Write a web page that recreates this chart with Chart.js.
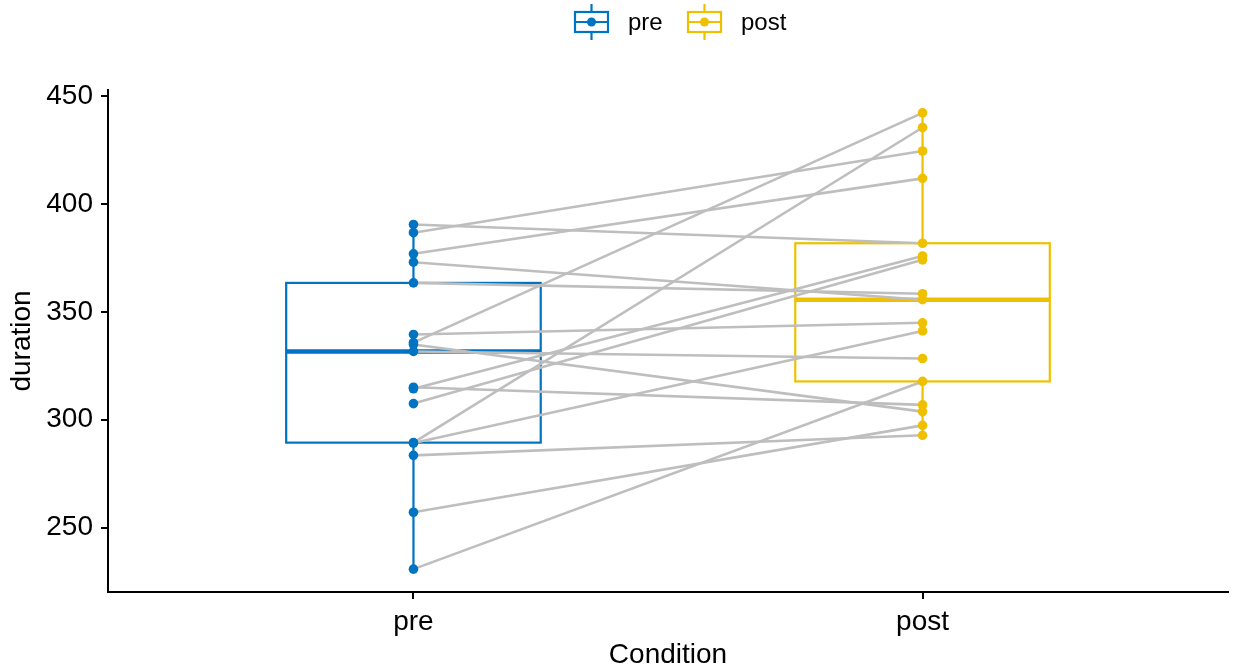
<!DOCTYPE html>
<html>
<head>
<meta charset="utf-8">
<script src="https://cdn.jsdelivr.net/npm/chart.js@4.4.1/dist/chart.umd.min.js"></script>
<style>
  html, body { margin: 0; padding: 0; background: #fff; }
  #wrap { width: 1233px; height: 669px; }
</style>
</head>
<body>
<div id="wrap"><canvas id="chart"></canvas></div>
<script>
// data (paired: preDuration[i] -> postDuration[i])
var conditions = ['pre', 'post'];
var preDuration  = [390.6, 386.8, 377.0, 373.1, 363.5, 339.6, 335.8, 334.9, 331.7, 315.1, 314.4, 307.5, 289.4, 289.2, 283.5, 257.1, 230.7];
var postDuration = [381.9, 424.7, 412.0, 355.7, 358.5, 345.0, 442.4, 303.8, 328.4, 306.9, 376.0, 374.2, 435.6, 341.2, 292.8, 297.4, 317.8];
var yTicks = [250, 300, 350, 400, 450];
var groupColors = ['#0073C2', '#EFC000'];
var pairColor = '#BEBEBE';
var FONT = 'Liberation Sans, Arial, sans-serif';

function quantile(values, p) {
    var s = values.slice().sort(function (a, b) { return a - b; });
    var h = (s.length - 1) * p;
    var lo = Math.floor(h);
    return s[lo] + (h - lo) * ((s[lo + 1] !== undefined ? s[lo + 1] : s[lo]) - s[lo]);
}

function boxStats(values) {
    var q1 = quantile(values, 0.25), q3 = quantile(values, 0.75);
    var iqr = q3 - q1;
    var inside = values.filter(function (v) { return v >= q1 - 1.5 * iqr && v <= q3 + 1.5 * iqr; });
    return {
        q1: q1, q3: q3, median: quantile(values, 0.5),
        lo: Math.min.apply(null, inside), hi: Math.max.apply(null, inside)
    };
}

// boxes + whiskers drawn under the datasets, positioned with the chart scales
var boxPlugin = {
    id: 'pairedBoxes',
    beforeDatasetsDraw: function (chart) {
        var ctx = chart.ctx, xs = chart.scales.x, ys = chart.scales.y;
        [preDuration, postDuration].forEach(function (vals, i) {
            var st = boxStats(vals);
            var xc = xs.getPixelForValue(i + 1);
            var x0 = xs.getPixelForValue(i + 1 - 0.25);
            var x1 = xs.getPixelForValue(i + 1 + 0.25);
            ctx.save();
            ctx.strokeStyle = groupColors[i];
            ctx.lineWidth = 2.2;
            ctx.beginPath();
            ctx.moveTo(xc, ys.getPixelForValue(st.q3));
            ctx.lineTo(xc, ys.getPixelForValue(st.hi));
            ctx.moveTo(xc, ys.getPixelForValue(st.q1));
            ctx.lineTo(xc, ys.getPixelForValue(st.lo));
            ctx.stroke();
            ctx.strokeRect(x0, ys.getPixelForValue(st.q3), x1 - x0, ys.getPixelForValue(st.q1) - ys.getPixelForValue(st.q3));
            ctx.lineWidth = 4.4;
            ctx.beginPath();
            ctx.moveTo(x0, ys.getPixelForValue(st.median));
            ctx.lineTo(x1, ys.getPixelForValue(st.median));
            ctx.stroke();
            ctx.restore();
        });
    }
};

// legend with small boxplot glyphs
var legendPlugin = {
    id: 'boxLegend',
    afterDraw: function (chart) {
        var ctx = chart.ctx;
        var items = [{ x: 575, label: conditions[0] }, { x: 688, label: conditions[1] }];
        var cy = 22;
        items.forEach(function (it, i) {
            var w = 33, cx = it.x + w / 2;
            ctx.save();
            ctx.strokeStyle = groupColors[i];
            ctx.fillStyle = groupColors[i];
            ctx.lineWidth = 2.2;
            ctx.strokeRect(it.x, cy - 10, w, 20);
            ctx.beginPath();
            ctx.moveTo(cx, cy - 18); ctx.lineTo(cx, cy - 10);
            ctx.moveTo(cx, cy + 10); ctx.lineTo(cx, cy + 18);
            ctx.moveTo(it.x, cy); ctx.lineTo(it.x + w, cy);
            ctx.stroke();
            ctx.beginPath();
            ctx.arc(cx, cy, 4.5, 0, Math.PI * 2);
            ctx.fill();
            ctx.fillStyle = '#000';
            ctx.font = '24px ' + FONT;
            ctx.textBaseline = 'middle';
            ctx.fillText(it.label, it.x + w + 20, cy + 1);
            ctx.restore();
        });
    }
};

var datasets = [];
preDuration.forEach(function (v, i) {
    datasets.push({
        data: [{ x: 1, y: v }, { x: 2, y: postDuration[i] }],
        showLine: true,
        borderColor: pairColor,
        borderWidth: 2.6,
        pointRadius: 0,
        order: 2
    });
});
[preDuration, postDuration].forEach(function (vals, g) {
    datasets.push({
        label: conditions[g],
        data: vals.map(function (v) { return { x: g + 1, y: v }; }),
        backgroundColor: groupColors[g],
        borderWidth: 0,
        pointRadius: 4.8,
        order: 1
    });
});

var axisColor = '#000';
new Chart(document.getElementById('chart'), {
    type: 'scatter',
    data: { datasets: datasets },
    plugins: [boxPlugin, legendPlugin],
    options: {
        responsive: true,
        maintainAspectRatio: false,
        animation: false,
        devicePixelRatio: 1,
        layout: { padding: { top: 90, right: 5, left: 0, bottom: 0 } },
        plugins: { legend: { display: false }, tooltip: { enabled: false } },
        scales: {
            x: {
                type: 'linear',
                min: 0.4,
                max: 2.6,
                afterBuildTicks: function (scale) {
                    scale.ticks = conditions.map(function (c, i) { return { value: i + 1 }; });
                },
                afterFit: function (scale) { scale.height = 77; },
                ticks: {
                    color: axisColor,
                    font: { family: FONT, size: 28 },
                    padding: 6,
                    callback: function (v) { return conditions[v - 1]; }
                },
                grid: { drawOnChartArea: false, color: axisColor, lineWidth: 2, tickLength: 7 },
                border: { color: axisColor, width: 2 },
                title: { display: true, text: 'Condition', color: axisColor, font: { family: FONT, size: 28 }, padding: { top: 0, bottom: -3 } }
            },
            y: {
                min: 220.1,
                max: 453,
                afterBuildTicks: function (scale) {
                    scale.ticks = yTicks.map(function (v) { return { value: v }; });
                },
                afterFit: function (scale) { scale.width = 108; },
                ticks: { color: axisColor, font: { family: FONT, size: 28 }, padding: 8 },
                grid: { drawOnChartArea: false, color: axisColor, lineWidth: 2, tickLength: 7 },
                border: { color: axisColor, width: 2 },
                title: { display: true, text: 'duration', color: axisColor, font: { family: FONT, size: 28 }, padding: { top: 5, bottom: 0 } }
            }
        }
    }
});
</script>
</body>
</html>
